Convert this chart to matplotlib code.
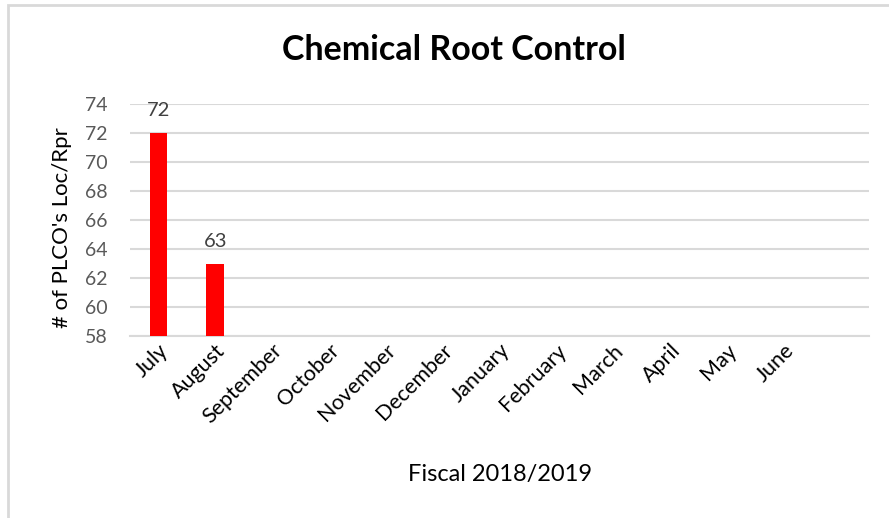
import matplotlib
matplotlib.use("Agg")
import matplotlib.pyplot as plt
from matplotlib.patches import Rectangle

months = ["July", "August", "September", "October", "November", "December",
          "January", "February", "March", "April", "May", "June"]
counts = [72, 63]          # months reported so far
y_ticks = [58, 60, 62, 64, 66, 68, 70, 72, 74]

title = "Chemical Root Control"
x_label = "Fiscal 2018/2019"
y_label = "# of PLCO's Loc/Rpr"

plt.rcParams["font.family"] = ["Lato", "DejaVu Sans"]

fig = plt.figure(figsize=(8.89, 5.18), dpi=100)
ax = fig.add_axes([130 / 889, 1 - 336 / 518, (869 - 130) / 889, (336 - 104) / 518])

base = y_ticks[0]
xs = list(range(len(counts)))
ax.bar(xs, [c - base for c in counts], bottom=base, width=0.31, color="#ff0000", zorder=3)
for x, c in zip(xs, counts):
    ax.annotate(str(c), (x, c), xytext=(0, 10), textcoords="offset points",
                ha="center", va="bottom", fontsize=14.5, color="#404040")

ax.set_xlim(-0.5, len(months) + 0.5)
ax.set_ylim(y_ticks[0], y_ticks[-1])
ax.set_yticks(y_ticks)
ax.set_xticks(range(len(months)))
ax.set_xticklabels(months, rotation=45, ha="right", va="top",
                   rotation_mode="anchor", fontsize=15.5, color="#000000")
ax.tick_params(axis="x", length=0, pad=3)
ax.tick_params(axis="y", length=0, pad=16, labelsize=14, labelcolor="#595959")

ax.grid(axis="y", color="#d9d9d9", linewidth=1.5, zorder=0)
for s in ["top", "right", "left"]:
    ax.spines[s].set_visible(False)
ax.spines["bottom"].set_color("#d9d9d9")
ax.spines["bottom"].set_linewidth(1.5)

fig.text(454 / 889, 1 - 50 / 518, title, ha="center", va="center",
         fontsize=24.5, fontweight="bold", color="#000000")
fig.text(500 / 889, 1 - 474 / 518, x_label, ha="center", va="center",
         fontsize=17, color="#000000")
fig.text(62 / 889, 1 - 228 / 518, y_label, ha="center", va="center",
         rotation=90, fontsize=16, color="#000000")

# chart frame
fig.patches.append(Rectangle((8 / 889, -0.1), 1.2, 1 - 5 / 518 + 0.1,
                             transform=fig.transFigure, fill=False,
                             edgecolor="#d9d9d9", linewidth=2))

fig.savefig("out.png", dpi=100)
